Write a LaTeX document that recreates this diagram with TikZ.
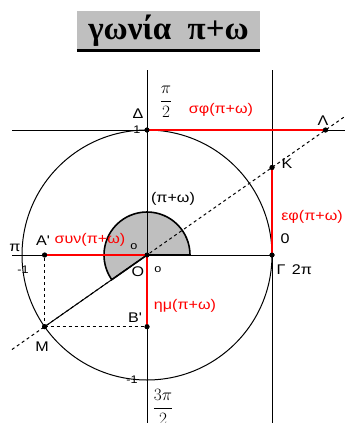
\documentclass[tikz,border=0pt]{standalone}
\usepackage{fontspec}
\setmainfont{Liberation Sans}
\newfontfamily\labelfont[FakeStretch=1.15]{Liberation Sans}
\newfontfamily\titlefont{Liberation Serif}
\usetikzlibrary{positioning}

\begin{document}
\begin{tikzpicture}[
    x=1pt, y=-1pt,
    axis/.style={line width=1pt},
    redseg/.style={red, line width=2.4pt},
    guide/.style={dashed, line width=1pt},
    dot/.style={circle, fill=black, inner sep=0pt, minimum size=5pt},
    lbl/.style={font=\labelfont\fontsize{14}{16}\selectfont, inner sep=0pt},
    redlbl/.style={lbl, text=red},
    small/.style={font=\labelfont\fontsize{11}{13}\selectfont, inner sep=0pt},
    frac/.style={font=\fontsize{18}{20}\selectfont, inner sep=0pt}
  ]
  \useasboundingbox (0,0) rectangle (345,423);

  % Title
  \node[fill=gray!50, minimum width=183pt, minimum height=39pt, inner sep=0pt,
        font=\titlefont\bfseries\fontsize{33}{35}\selectfont] (title) at (168.5,30.5) {γωνία\ \ π+ω};
  \draw[line width=3pt] (title.south west) -- (title.south east);

  % Points
  \node[dot] (O) at (147,255) {};
  \node[dot] (Delta) at (147,130) {};
  \node[dot] (Gamma) at (272,255) {};
  \node[dot] (Lambda) at (325.5,130) {};
  \node[dot] (K) at (272,167.5) {};
  \node[dot] (M) at (44.6,326.7) {};
  \node[dot] (Ap) at (44.6,255) {};
  \node[dot] (Bp) at (147,326.7) {};

  % Line ends
  \coordinate (ytop) at (147,70);
  \coordinate (ybot) at (147,423);
  \coordinate (xleft) at (12,255);
  \coordinate (ttop) at (272,70);
  \coordinate (tbot) at (272,423);
  \coordinate (cleft) at (12,130);
  \coordinate (cright) at (345,130);
  \coordinate (dlow) at (12,349.5);
  \coordinate (dhigh) at (345,116.4);

  % Angle sector
  \filldraw[fill=gray!50, line width=1.6pt] (O.center) -- ++(43,0) arc[start angle=0, end angle=215, radius=43pt] -- cycle;

  % Circle and axes
  \draw[axis] (O.center) circle (125pt);
  \draw[axis] (ytop) -- (ybot);
  \draw[axis] (xleft) -- (Gamma.center);
  \draw[axis] (ttop) -- (tbot);
  \draw[axis] (cleft) -- (cright);
  \draw[guide] (dlow) -- (dhigh);
  \draw[axis] (O.center) -- (M.center);
  \draw[guide] (M.center) -- (Ap.center);
  \draw[guide] (M.center) -- (Bp.center);

  % Red segments
  \draw[redseg] (O.center) -- (Ap.center);
  \draw[redseg] (O.center) -- (Bp.center);
  \draw[redseg] (Gamma.center) -- (K.center);
  \draw[redseg] (Delta.center) -- (Lambda.center);

  % Redraw dots on top
  \foreach \p in {O,Delta,Gamma,Lambda,K,M,Ap,Bp}
    \fill (\p) circle (2.5pt);

  % Labels
  \node[lbl] (lDelta) at (138,114) {Δ};
  \node[small] (lone) at (137,130) {1};
  \node[frac] (lhalfpi) at (166,102) {$\displaystyle\frac{\pi}{2}$};
  \node[redlbl] (lcot) at (221,110) {σφ(π+ω)};
  \node[lbl] (lLambda) at (323,121) {Λ};
  \node[lbl] (lK) at (287,164) {K};
  \node[lbl] (langle) at (173,199) {(π+ω)};
  \node[redlbl] (ltan) at (312,217) {εφ(π+ω)};
  \node[lbl] (lzero) at (285,239) {0};
  \node[lbl] (lpi) at (15,248) {π};
  \node[lbl] (lAp) at (43,241) {A'};
  \node[redlbl] (lcos) at (90,240) {συν(π+ω)};
  \node[small] (lo) at (134,247) {o};
  \node[small] (lmone) at (23,270) {-1};
  \node[lbl] (lO) at (138,272) {O};
  \node[small] (lo2) at (158,270) {o};
  \node[lbl] (lGamma) at (281,270) {Γ};
  \node[lbl] (ltwopi) at (302,270) {2π};
  \node[redlbl] (lsin) at (185,306) {ημ(π+ω)};
  \node[lbl] (lBp) at (135,318) {B'};
  \node[lbl] (lM) at (42,347) {M};
  \node[small] (lmone2) at (132,380) {-1};
  \node[frac] (lthreehalfpi) at (163,407) {$\displaystyle\frac{3\pi}{2}$};
\end{tikzpicture}
\end{document}
